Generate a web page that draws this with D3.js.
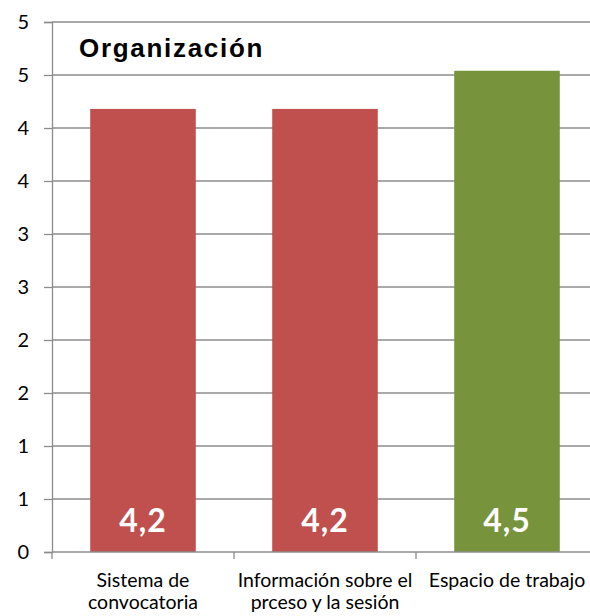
<!DOCTYPE html>
<html>
<head>
<meta charset="utf-8">
<script src="https://cdn.jsdelivr.net/npm/d3@7"></script>
<style>
  body { margin: 0; background: #fff; }
</style>
</head>
<body>
<script>
var categories = [["Sistema de", "convocatoria"], ["Información sobre el", "prceso y la sesión"], ["Espacio de trabajo"]];
var values = [4.18, 4.18, 4.54];
var valueLabels = ["4,2", "4,2", "4,5"];
var barColors = ["#C0504D", "#C0504D", "#77933C"];
var yTicks = [0, 0.5, 1, 1.5, 2, 2.5, 3, 3.5, 4, 4.5, 5];
var title = "Organización";

var width = 590, height = 616;
var plotLeft = 52, plotRight = 598, plotTop = 22, plotBottom = 552;

var svg = d3.select("body").append("svg")
    .attr("width", width)
    .attr("height", height);

var x = d3.scaleBand()
    .domain(d3.range(categories.length))
    .range([plotLeft, plotRight])
    .paddingInner(0.42)
    .paddingOuter(0.21);

var y = d3.scaleLinear()
    .domain([0, 5])
    .range([plotBottom, plotTop]);

// gridlines
svg.selectAll(".grid")
    .data(yTicks.filter(function(d) { return d > 0; }))
    .enter().append("line")
    .attr("x1", plotLeft).attr("x2", width)
    .attr("y1", function(d) { return y(d); })
    .attr("y2", function(d) { return y(d); })
    .attr("stroke", "#8c8c8c")
    .attr("stroke-width", 1.3);

// y axis
var yAxis = svg.append("g")
    .attr("transform", "translate(" + plotLeft + ",0)")
    .call(d3.axisLeft(y).tickValues(yTicks).tickSize(8).tickPadding(15)
        .tickFormat(function(d) { return Math.round(d); }));
yAxis.selectAll("line").attr("stroke", "#8c8c8c").attr("stroke-width", 1.3);
yAxis.select(".domain").attr("stroke", "#8c8c8c").attr("stroke-width", 1.3);
yAxis.selectAll("text")
    .attr("font-family", "Lato, 'Open Sans', sans-serif")
    .attr("font-size", 20)
    .attr("fill", "#000");

// bars
svg.selectAll(".bar")
    .data(values)
    .enter().append("rect")
    .attr("x", function(d, i) { return x(i); })
    .attr("y", function(d) { return y(d); })
    .attr("width", x.bandwidth())
    .attr("height", function(d) { return plotBottom - y(d); })
    .attr("fill", function(d, i) { return barColors[i]; });

// x axis
var xLine = svg.append("g");
xLine.append("line")
    .attr("x1", plotLeft).attr("x2", width)
    .attr("y1", plotBottom).attr("y2", plotBottom)
    .attr("stroke", "#8c8c8c").attr("stroke-width", 1.3);
xLine.selectAll(".xt")
    .data(d3.range(categories.length + 1))
    .enter().append("line")
    .attr("x1", function(d) { return plotLeft + d * (plotRight - plotLeft) / categories.length; })
    .attr("x2", function(d) { return plotLeft + d * (plotRight - plotLeft) / categories.length; })
    .attr("y1", plotBottom).attr("y2", plotBottom + 7)
    .attr("stroke", "#8c8c8c").attr("stroke-width", 1.3);

// value labels
svg.selectAll(".val")
    .data(values)
    .enter().append("text")
    .attr("x", function(d, i) { return x(i) + x.bandwidth() / 2; })
    .attr("y", 532)
    .attr("text-anchor", "middle")
    .attr("font-family", "Lato, 'Open Sans', sans-serif")
    .attr("font-weight", "bold")
    .attr("font-size", 32)
    .attr("letter-spacing", 1)
    .attr("fill", "#fff")
    .text(function(d, i) { return valueLabels[i]; });

// category labels
var cat = svg.selectAll(".cat")
    .data(categories)
    .enter().append("text")
    .attr("text-anchor", "middle")
    .attr("font-family", "Lato, 'Open Sans', sans-serif")
    .attr("font-size", 19.5)
    .attr("fill", "#000");
cat.selectAll("tspan")
    .data(function(d, i) { return d.map(function(t) { return {t: t, i: i}; }); })
    .enter().append("tspan")
    .attr("x", function(d) { return x(d.i) + x.bandwidth() / 2; })
    .attr("y", function(d, j) { return 587 + j * 22; })
    .text(function(d) { return d.t; });

// title
svg.append("text")
    .attr("x", 79)
    .attr("y", 57)
    .attr("font-family", "'Liberation Sans', Arial, sans-serif")
    .attr("font-weight", "bold")
    .attr("font-size", 26)
    .attr("letter-spacing", 1.7)
    .attr("fill", "#000")
    .text(title);
</script>
</body>
</html>
